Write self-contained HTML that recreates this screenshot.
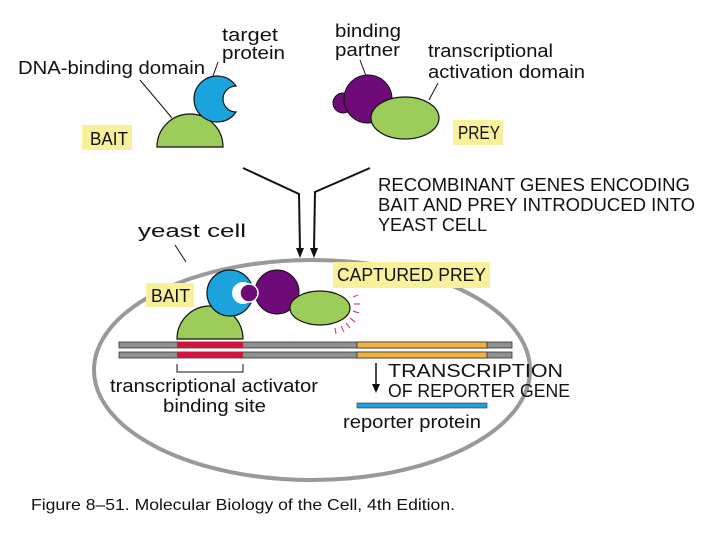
<!DOCTYPE html>
<html><head><style>
html,body{margin:0;padding:0;background:#fff;}
svg{display:block;}
text{font-family:"Liberation Sans",sans-serif;fill:#111;}
</style></head><body>
<svg width="720" height="540" viewBox="0 0 720 540" xmlns="http://www.w3.org/2000/svg">
<!-- top bait -->
<rect x="82" y="125" width="50" height="25" fill="#f8f09a"/>
<text x="90" y="145" font-size="18" textLength="38" lengthAdjust="spacingAndGlyphs">BAIT</text>
<text x="18" y="74" font-size="18" textLength="187" lengthAdjust="spacingAndGlyphs">DNA-binding domain</text>
<line x1="140" y1="80" x2="172" y2="118" stroke="#111" stroke-width="1"/>
<text x="222" y="41" font-size="18" textLength="56" lengthAdjust="spacingAndGlyphs">target</text>
<text x="222" y="59" font-size="18" textLength="63" lengthAdjust="spacingAndGlyphs">protein</text>
<line x1="218" y1="62" x2="213" y2="76" stroke="#111" stroke-width="1"/>
<path d="M157 147 A33 33 0 0 1 223 147 Z" fill="#9ccc5a" stroke="#111" stroke-width="1.2"/>
<path d="M236 86 A23 23 0 1 0 236 112 A11 11 0 1 1 236 86 Z" fill="#1aa3dc" stroke="#111" stroke-width="1.2"/>
<!-- top prey -->
<text x="335" y="37" font-size="18" textLength="66" lengthAdjust="spacingAndGlyphs">binding</text>
<text x="335" y="56" font-size="18" textLength="65" lengthAdjust="spacingAndGlyphs">partner</text>
<line x1="360" y1="60" x2="366" y2="76" stroke="#111" stroke-width="1"/>
<text x="428" y="57" font-size="18" textLength="125" lengthAdjust="spacingAndGlyphs">transcriptional</text>
<text x="428" y="78" font-size="18" textLength="157" lengthAdjust="spacingAndGlyphs">activation domain</text>
<line x1="438" y1="83" x2="429" y2="100" stroke="#111" stroke-width="1"/>
<circle cx="343" cy="103" r="10" fill="#6e0b78" stroke="#111" stroke-width="1"/>
<circle cx="368" cy="99" r="24" fill="#6e0b78" stroke="#111" stroke-width="1"/>
<ellipse cx="405" cy="118" rx="34" ry="21" fill="#9ccc5a" stroke="#111" stroke-width="1.2"/>
<rect x="453" y="120" width="50" height="25" fill="#f8f09a"/>
<text x="458" y="139" font-size="18" textLength="42" lengthAdjust="spacingAndGlyphs">PREY</text>
<!-- arrows -->
<polyline points="243,168 299,194 300,250" fill="none" stroke="#111" stroke-width="2"/>
<polyline points="370,168 315,192 314,250" fill="none" stroke="#111" stroke-width="2"/>
<polygon points="296,248 304,248 300,258" fill="#111"/>
<polygon points="310,248 318,248 314,258" fill="#111"/>
<text x="378" y="191" font-size="18" textLength="312" lengthAdjust="spacingAndGlyphs">RECOMBINANT GENES ENCODING</text>
<text x="378" y="211" font-size="18" textLength="317" lengthAdjust="spacingAndGlyphs">BAIT AND PREY INTRODUCED INTO</text>
<text x="378" y="231" font-size="18" textLength="109" lengthAdjust="spacingAndGlyphs">YEAST CELL</text>
<!-- cell -->
<text x="138" y="237" font-size="18" textLength="108" lengthAdjust="spacingAndGlyphs">yeast cell</text>
<line x1="175" y1="245" x2="186" y2="262" stroke="#111" stroke-width="1"/>
<ellipse cx="312" cy="370" rx="218" ry="110" fill="none" stroke="#999" stroke-width="4"/>
<!-- DNA -->
<rect x="119" y="342" width="393" height="6" fill="#909090" stroke="#333" stroke-width="0.8"/>
<rect x="119" y="352" width="393" height="6" fill="#909090" stroke="#333" stroke-width="0.8"/>
<rect x="177" y="342" width="66" height="6" fill="#d0143c"/>
<rect x="177" y="352" width="66" height="6" fill="#d0143c"/>
<rect x="357" y="342" width="130" height="6" fill="#f0b23a" stroke="#333" stroke-width="0.8"/>
<rect x="357" y="352" width="130" height="6" fill="#f0b23a" stroke="#333" stroke-width="0.8"/>
<path d="M177 339 A33 33 0 0 1 243 339 Z" fill="#9ccc5a" stroke="#111" stroke-width="1.2"/>
<circle cx="230" cy="293" r="23" fill="#1aa3dc" stroke="#111" stroke-width="1.2"/>
<circle cx="243" cy="293" r="11" fill="#fff"/>
<circle cx="277" cy="292" r="22" fill="#6e0b78" stroke="#111" stroke-width="1"/>
<circle cx="249" cy="293" r="9" fill="#6e0b78" stroke="#fff" stroke-width="1.5"/>
<ellipse cx="320" cy="308" rx="30" ry="17" fill="#9ccc5a" stroke="#111" stroke-width="1.2"/>
<g stroke="#d04a80" stroke-width="1.2">
<line x1="353" y1="297" x2="358" y2="295"/>
<line x1="354" y1="304" x2="360" y2="304"/>
<line x1="353" y1="311" x2="359" y2="313"/>
<line x1="350" y1="318" x2="355" y2="322"/>
<line x1="346" y1="323" x2="350" y2="328"/>
<line x1="341" y1="326" x2="344" y2="332"/>
<line x1="335" y1="328" x2="336" y2="334"/>
</g>
<rect x="146" y="283" width="48" height="24" fill="#f8f09a"/>
<text x="151" y="302" font-size="18" textLength="39" lengthAdjust="spacingAndGlyphs">BAIT</text>
<rect x="333" y="262" width="157" height="26" fill="#f8f09a"/>
<text x="337" y="281" font-size="18" textLength="149" lengthAdjust="spacingAndGlyphs">CAPTURED PREY</text>
<polyline points="177,364 177,372 243,372 243,364" fill="none" stroke="#111" stroke-width="1"/>
<text x="110" y="392" font-size="18" textLength="208" lengthAdjust="spacingAndGlyphs">transcriptional activator</text>
<text x="163" y="412" font-size="18" textLength="103" lengthAdjust="spacingAndGlyphs">binding site</text>
<line x1="376" y1="363" x2="376" y2="386" stroke="#111" stroke-width="1.5"/>
<polygon points="372,384 380,384 376,393" fill="#111"/>
<text x="388" y="377" font-size="18" textLength="175" lengthAdjust="spacingAndGlyphs">TRANSCRIPTION</text>
<text x="388" y="397" font-size="18" textLength="182" lengthAdjust="spacingAndGlyphs">OF REPORTER GENE</text>
<rect x="357" y="403" width="130" height="5" fill="#1aa3dc" stroke="#333" stroke-width="0.6"/>
<text x="343" y="428" font-size="18" textLength="138" lengthAdjust="spacingAndGlyphs">reporter protein</text>
<text x="31" y="510" font-size="16" textLength="424" lengthAdjust="spacingAndGlyphs">Figure 8–51. Molecular Biology of the Cell, 4th Edition.</text>
</svg>
</body></html>
